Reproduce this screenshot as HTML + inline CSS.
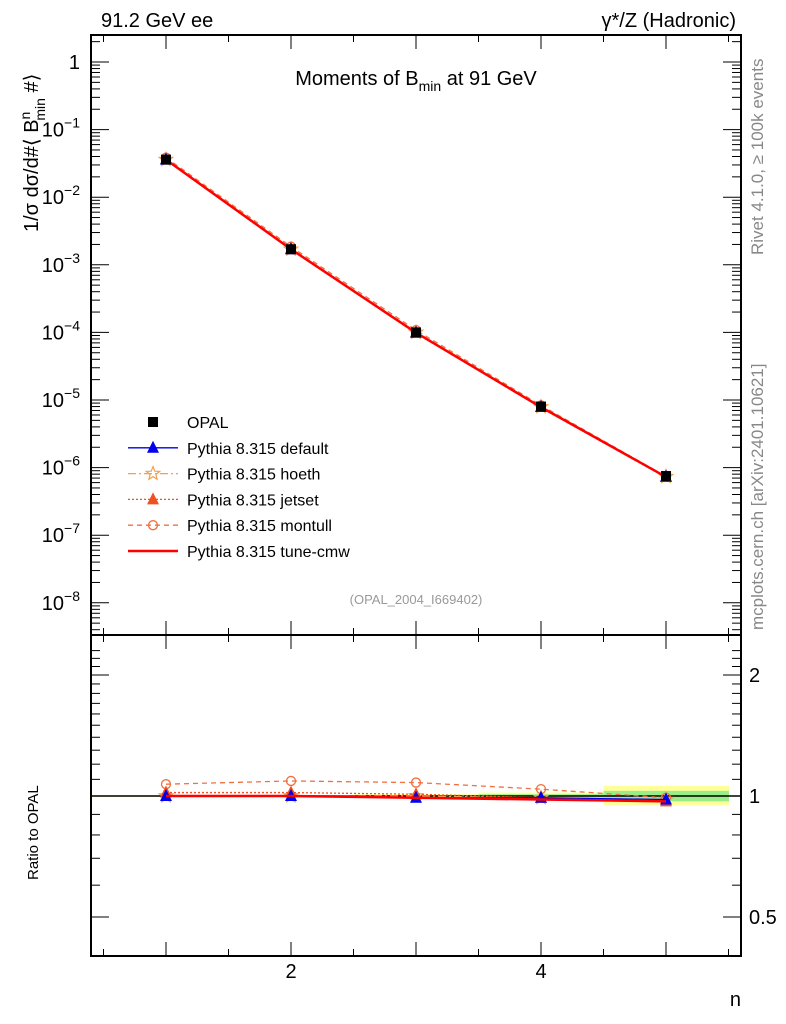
<!DOCTYPE html>
<html><head><meta charset="utf-8"><style>
body{margin:0;background:#fff;}
svg{display:block;font-family:"Liberation Sans",sans-serif;}
</style></head><body>
<svg id="c" width="786" height="1024" viewBox="0 0 786 1024" xmlns="http://www.w3.org/2000/svg">
<text x="101" y="27" font-size="20">91.2 GeV ee</text>
<text x="736" y="27" font-size="20" text-anchor="end">γ*/Z (Hadronic)</text>
<text x="416" y="85" font-size="20" text-anchor="middle">Moments of B<tspan font-size="14" dy="6">min</tspan><tspan dy="-6"> at 91 GeV</tspan></text>
<text x="416" y="604" font-size="13" fill="#999" text-anchor="middle">(OPAL_2004_I669402)</text>
<text transform="translate(763,255) rotate(-90)" font-size="17" fill="#888">Rivet 4.1.0, ≥ 100k events</text>
<text transform="translate(763,630) rotate(-90)" font-size="17" fill="#888">mcplots.cern.ch [arXiv:2401.10621]</text>
<text transform="translate(38,232) rotate(-90)" font-size="20">1/σ  dσ/d#⟨ B<tspan font-size="14" dy="-8">n</tspan><tspan font-size="14" dx="-9" dy="15">min</tspan><tspan dy="-7"> #⟩</tspan></text>
<text transform="translate(38,880) rotate(-90)" font-size="15">Ratio to OPAL</text>
<text x="741" y="1006" font-size="20" text-anchor="end">n</text>
<g id="g"></g>
</svg>
<script>
const nVals=[1,2,3,4,5];
const opal=[3.6e-2,1.7e-3,1.0e-4,8.0e-6,7.5e-7];
const rDefault=[1.00,1.00,0.99,0.99,0.98];
const rHoeth=[1.00,1.00,1.00,0.99,0.98];
const rJetset=[1.02,1.02,1.01,0.99,0.97];
const rMontull=[1.07,1.09,1.08,1.04,0.99];
const rCmw=[1.00,1.00,0.99,0.98,0.97];
const bandYellowLo=[0.995,0.995,0.99,0.98,0.95];
const bandYellowHi=[1.005,1.005,1.01,1.02,1.06];
const bandGreenLo=[0.998,0.998,0.995,0.99,0.97];
const bandGreenHi=[1.002,1.002,1.005,1.01,1.03];
const ratioTicks=[0.5,1,2];
const xTicks=[2,4];
const yDecades=[0,-1,-2,-3,-4,-5,-6,-7,-8];

const L=91,R=741,T=35,M=635,B=956;
const X=n=>166+(n-1)*125;
const Y=v=>62-(Math.log10(v))*67.6;
const YR=r=>796-Math.log2(r)*121;
const g=document.getElementById('g');
const NS='http://www.w3.org/2000/svg';
function mk(t,a,p){const e=document.createElementNS(NS,t);for(const k in a)e.setAttribute(k,a[k]);(p||g).appendChild(e);return e;}

for(let i=0;i<nVals.length;i++){
  const x0=i==0?L:X(nVals[i])-62.5, x1=i==nVals.length-1?R-12:X(nVals[i])+62.5;
  let e=mk('rect',{x:x0,y:YR(bandYellowHi[i]),width:x1-x0,height:YR(bandYellowLo[i])-YR(bandYellowHi[i]),fill:'#ffff99'});
  
  e=mk('rect',{x:x0,y:YR(bandGreenHi[i]),width:x1-x0,height:YR(bandGreenLo[i])-YR(bandGreenHi[i]),fill:'#99ee88'});
  
}
mk('line',{x1:L,x2:R,y1:YR(1),y2:YR(1),stroke:'#000','stroke-width':1.5});

let f=mk('rect',{x:L,y:T,width:R-L,height:M-T,fill:'none',stroke:'#000','stroke-width':2});

f=mk('rect',{x:L,y:M,width:R-L,height:B-M,fill:'none',stroke:'#000','stroke-width':2});


for(let v=0.5;v<=5.6;v+=0.5){const x=X(v);if(x<L||x>R)continue;const big=Math.abs(v-Math.round(v))<1e-6;const h=big?14:7;
 [T,M].forEach(y0=>{mk('line',{x1:x,x2:x,y1:y0,y2:y0+h,stroke:'#000'});});
 [M,B].forEach(y0=>{mk('line',{x1:x,x2:x,y1:y0,y2:y0-h,stroke:'#000'});});}
xTicks.forEach(v=>{const t=mk('text',{x:X(v),y:978,'font-size':20,'text-anchor':'middle'});t.textContent=v;
 });

yDecades.forEach(d=>{const y=Y(Math.pow(10,d));
 mk('line',{x1:L,x2:L+18,y1:y,y2:y,stroke:'#000'});mk('line',{x1:R,x2:R-18,y1:y,y2:y,stroke:'#000'});
 const t=mk('text',{x:80,y:y+7,'font-size':20,'text-anchor':'end'});
 if(d==0)t.textContent='1';else{t.textContent='10';const s=mk('tspan',{'font-size':14,dy:-9},t);s.textContent='−'+(-d);}
 
});
for(let d=-9;d<=0;d++)for(let k=2;k<=9;k++){const y=Y(k*Math.pow(10,d));if(y<T||y>M)continue;
 mk('line',{x1:L,x2:L+9,y1:y,y2:y,stroke:'#000'});mk('line',{x1:R,x2:R-9,y1:y,y2:y,stroke:'#000'});}

for(let r=0.4;r<=2.35;r+=0.1){const y=YR(r);if(y<M||y>B)continue;const big=[0.5,1,2].some(v=>Math.abs(v-r)<1e-6);
 const h=big?18:9;mk('line',{x1:L,x2:L+h,y1:y,y2:y,stroke:'#000'});mk('line',{x1:R,x2:R-h,y1:y,y2:y,stroke:'#000'});}
ratioTicks.forEach(v=>{const t=mk('text',{x:749,y:YR(v)+7,'font-size':20});t.textContent=v;
 });

function marker(type,x,y,col,name){let e;
 if(type=='sq')e=mk('rect',{x:x-5,y:y-5,width:10,height:10,fill:col});
 else if(type=='tri')e=mk('polygon',{points:`${x},${y-7} ${x-6},${y+5} ${x+6},${y+5}`,fill:col});
 else if(type=='circ')e=mk('circle',{cx:x,cy:y,r:4.5,fill:'none',stroke:col,'stroke-width':1.3});
 else if(type=='star'){let p=[];for(let i=0;i<10;i++){const a=-Math.PI/2+i*Math.PI/5,rr=i%2?3:7;p.push((x+rr*Math.cos(a)).toFixed(1)+','+(y+rr*Math.sin(a)).toFixed(1));}
  e=mk('polygon',{points:p.join(' '),fill:'none',stroke:col,'stroke-width':1.2});}
 }

const series=[
 {r:rHoeth,col:'#f0a050',dash:'8,3,2,3',m:'star',name:'hoeth'},
 {r:rMontull,col:'#f07040',dash:'5,4',m:'circ',name:'montull'},
 {r:rJetset,col:'#f05020',dash:'2,2',m:'tri',name:'jetset'},
 {r:rDefault,col:'#0000ee',dash:'',m:'tri',name:'default'},
 {r:rCmw,col:'#ff0000',dash:'',m:null,name:'tune-cmw'}];

series.forEach(s=>{
 const pts=nVals.map((n,i)=>X(n)+','+Y(opal[i]*s.r[i])).join(' ');
 const l=mk('polyline',{points:pts,fill:'none',stroke:s.col,'stroke-width':s.name=='tune-cmw'?2.5:1.3,'stroke-dasharray':s.dash});
 
 const rl=mk('polyline',{points:nVals.map((n,i)=>X(n)+','+YR(s.r[i])).join(' '),fill:'none',stroke:s.col,'stroke-width':s.name=='tune-cmw'?2.5:1.3,'stroke-dasharray':s.dash});
 
 if(s.m)nVals.forEach((n,i)=>{marker(s.m,X(n),Y(opal[i]*s.r[i]),s.col,'point-'+s.name);marker(s.m,X(n),YR(s.r[i]),s.col,'ratio-point-'+s.name);});
});
nVals.forEach((n,i)=>marker('sq',X(n),Y(opal[i]),'#000','opal-point'));

const leg=[['OPAL','#000','','sq'],['Pythia 8.315 default','#0000ee','','tri'],['Pythia 8.315 hoeth','#f0a050','8,3,2,3','star'],
 ['Pythia 8.315 jetset','#f05020','2,2','tri'],['Pythia 8.315 montull','#f07040','5,4','circ'],['Pythia 8.315 tune-cmw','#ff0000','',null]];
leg.forEach((e,i)=>{const y=422+i*25.8;
 if(i>0){const l=mk('line',{x1:128,x2:178,y1:y,y2:y,stroke:e[1],'stroke-width':i==5?2.5:1.3,'stroke-dasharray':e[2]});
  }
 if(e[3])marker(e[3],153,y,e[1],'legend-marker');
 const t=mk('text',{x:187,y:y+6,'font-size':16});t.textContent=e[0];
 });
</script>
</body></html>
